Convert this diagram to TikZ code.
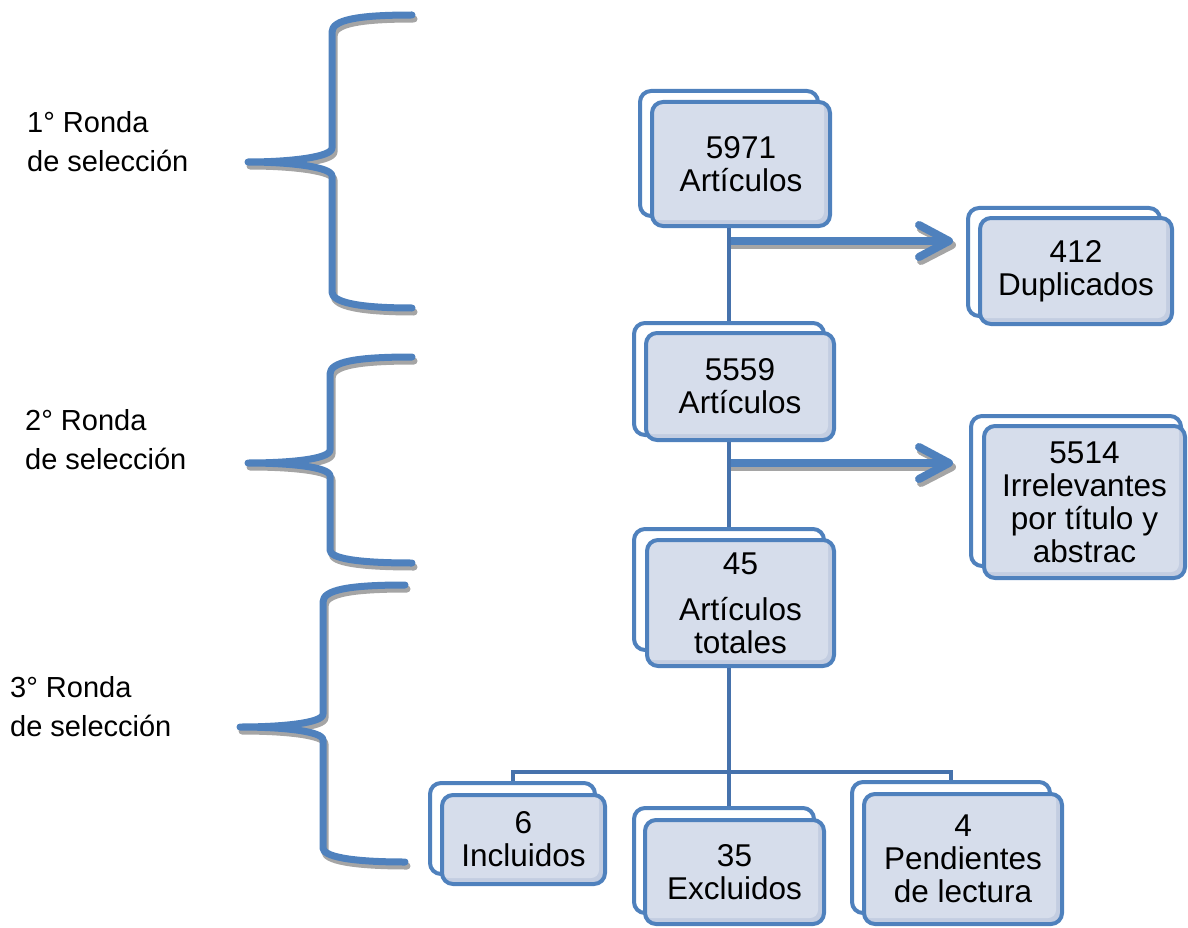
\documentclass[tikz,border=0pt]{standalone}
\usepackage{fontspec}
\setmainfont{Liberation Sans}
\usetikzlibrary{backgrounds,calc}
\definecolor{boxblue}{HTML}{4F81BD}
\definecolor{connblue}{HTML}{4672AC}
\definecolor{fillc}{HTML}{D6DDEB}
\definecolor{bandc}{HTML}{C3CDE1}
\definecolor{shadowc}{HTML}{A5A5A5}
\tikzset{
  backbox/.style={draw=boxblue, line width=4pt, rounded corners=11pt, fill=white, inner sep=0pt},
  frontbox/.style={draw=boxblue, line width=4pt, rounded corners=11pt, fill=bandc, inner sep=0pt,
    align=center, font=\fontsize{31.5}{33}\selectfont,
    path picture={\fill[fillc, rounded corners=8pt]
      ([xshift=-2pt,yshift=2pt]path picture bounding box.north west) rectangle
      ([xshift=-6pt,yshift=6pt]path picture bounding box.south east);}},
  conn/.style={draw=connblue, line width=4pt},
  bracestroke/.style={draw=boxblue, line width=7pt, line cap=round, line join=round},
  braceshadow/.style={draw=shadowc, line width=7pt, line cap=round, line join=round},
  arrstroke/.style={draw=boxblue, line width=8pt, line cap=round, line join=round},
  arrshadow/.style={draw=shadowc, line width=8pt, line cap=round, line join=round},
  roundlabel/.style={anchor=west, align=left, inner sep=0pt, font=\fontsize{29}{39}\selectfont},
}
\begin{document}
\begin{tikzpicture}[x=1pt,y=-1pt]
\useasboundingbox (0,0) rectangle (1188,928);

% braces (shadow then stroke)
\foreach \s/\o in {braceshadow/{(2,4)}, bracestroke/{(0,0)}}{
  \draw[\s, shift=\o] (412,15) .. controls (357,15) and (332,20) .. (332,32) -- (332,148)
    .. controls (332,157) and (290,162) .. (248,162) .. controls (290,162) and (332,167) .. (332,176)
    -- (332,292) .. controls (332,302) and (357,308) .. (412,308);
  \draw[\s, shift=\o] (412,357) .. controls (355,357) and (330,362) .. (330,374) -- (330,450)
    .. controls (330,459) and (290,463) .. (248,463) .. controls (290,463) and (330,467) .. (330,476)
    -- (330,550) .. controls (330,558) and (355,563) .. (412,563);
  \draw[\s, shift=\o] (405,585) .. controls (348,585) and (323,590) .. (323,602) -- (323,714)
    .. controls (323,723) and (282,727) .. (240,727) .. controls (282,727) and (323,731) .. (323,740)
    -- (323,848) .. controls (323,856) and (348,862) .. (405,862);
}

% labels
\node[roundlabel] (l1) at (27,142) {1° Ronda\\de selección};
\node[roundlabel] (l2) at (25,440) {2° Ronda\\de selección};
\node[roundlabel] (l3) at (10,707) {3° Ronda\\de selección};

% boxes
\node[backbox, minimum width=178pt, minimum height=125pt] (b1b) at (729,153.5) {};
\node[frontbox, minimum width=178pt, minimum height=124pt] (b1) at (741,164) {5971\\Artículos};

\node[backbox, minimum width=192pt, minimum height=108pt] (b2b) at (1064,262) {};
\node[frontbox, minimum width=192pt, minimum height=106pt] (b2) at (1076,271) {412\\Duplicados};

\node[backbox, minimum width=190pt, minimum height=112pt] (b3b) at (729,379) {};
\node[frontbox, minimum width=188pt, minimum height=107pt] (b3) at (740,386.5) {5559\\Artículos};

\node[backbox, minimum width=210pt, minimum height=150pt] (b4b) at (1076,491) {};
\node[frontbox, minimum width=201pt, minimum height=152pt] (b4) at (1084.5,502) {5514\\Irrelevantes\\por título y\\abstrac};

\node[backbox, minimum width=190pt, minimum height=121pt] (b5b) at (729,589.5) {};
\node[frontbox, minimum width=187pt, minimum height=126pt] (b5) at (740.5,603) {45\\[13pt]Artículos\\totales};

\node[backbox, minimum width=165pt, minimum height=91pt] (b6b) at (512.5,828.5) {};
\node[frontbox, minimum width=163pt, minimum height=89pt] (b6) at (523.5,839.5) {6\\Incluidos};

\node[backbox, minimum width=180pt, minimum height=105pt] (b7b) at (724,860.5) {};
\node[frontbox, minimum width=179pt, minimum height=104pt] (b7) at (734.5,872) {35\\Excluidos};

\node[backbox, minimum width=198pt, minimum height=131pt] (b8b) at (951,847.5) {};
\node[frontbox, minimum width=198pt, minimum height=130pt] (b8) at (963,859) {4\\Pendientes\\de lectura};

% connectors and arrows behind the boxes
\begin{pgfonlayer}{background}
  \draw[conn] (b1b.south) -- (b3b.north);
  \draw[conn] (b3b.south) -- (b5b.north);
  \coordinate (bar) at (729,772);
  \draw[conn] (b5b.south) -- (b5b.south |- b7b.north);
  \draw[conn] (b6b.north) -- (b6b.north |- bar) -- (b8b.north |- bar) -- (b8b.north);

  \coordinate (j1) at (731,241);
  \coordinate (t1) at ($(j1 -| b2b.west)+(-17,0)$);
  \coordinate (j2) at (731,463);
  \coordinate (t2) at ($(j2 -| b4b.west)+(-20,0)$);
  \foreach \j/\t in {j1/t1, j2/t2}{
    \draw[arrshadow, line cap=butt] ([shift={(0,4)}]\j) -- ([shift={(2,4)}]\t);
    \draw[arrshadow] ([shift={(-28,-12)}]\t) -- ([shift={(3,4)}]\t) -- ([shift={(-28,20)}]\t);
    \draw[arrstroke, line cap=butt] (\j) -- (\t);
    \draw[arrstroke] ([shift={(-30,-16)}]\t) -- (\t) -- ([shift={(-30,16)}]\t);
  }
\end{pgfonlayer}
\end{tikzpicture}
\end{document}
